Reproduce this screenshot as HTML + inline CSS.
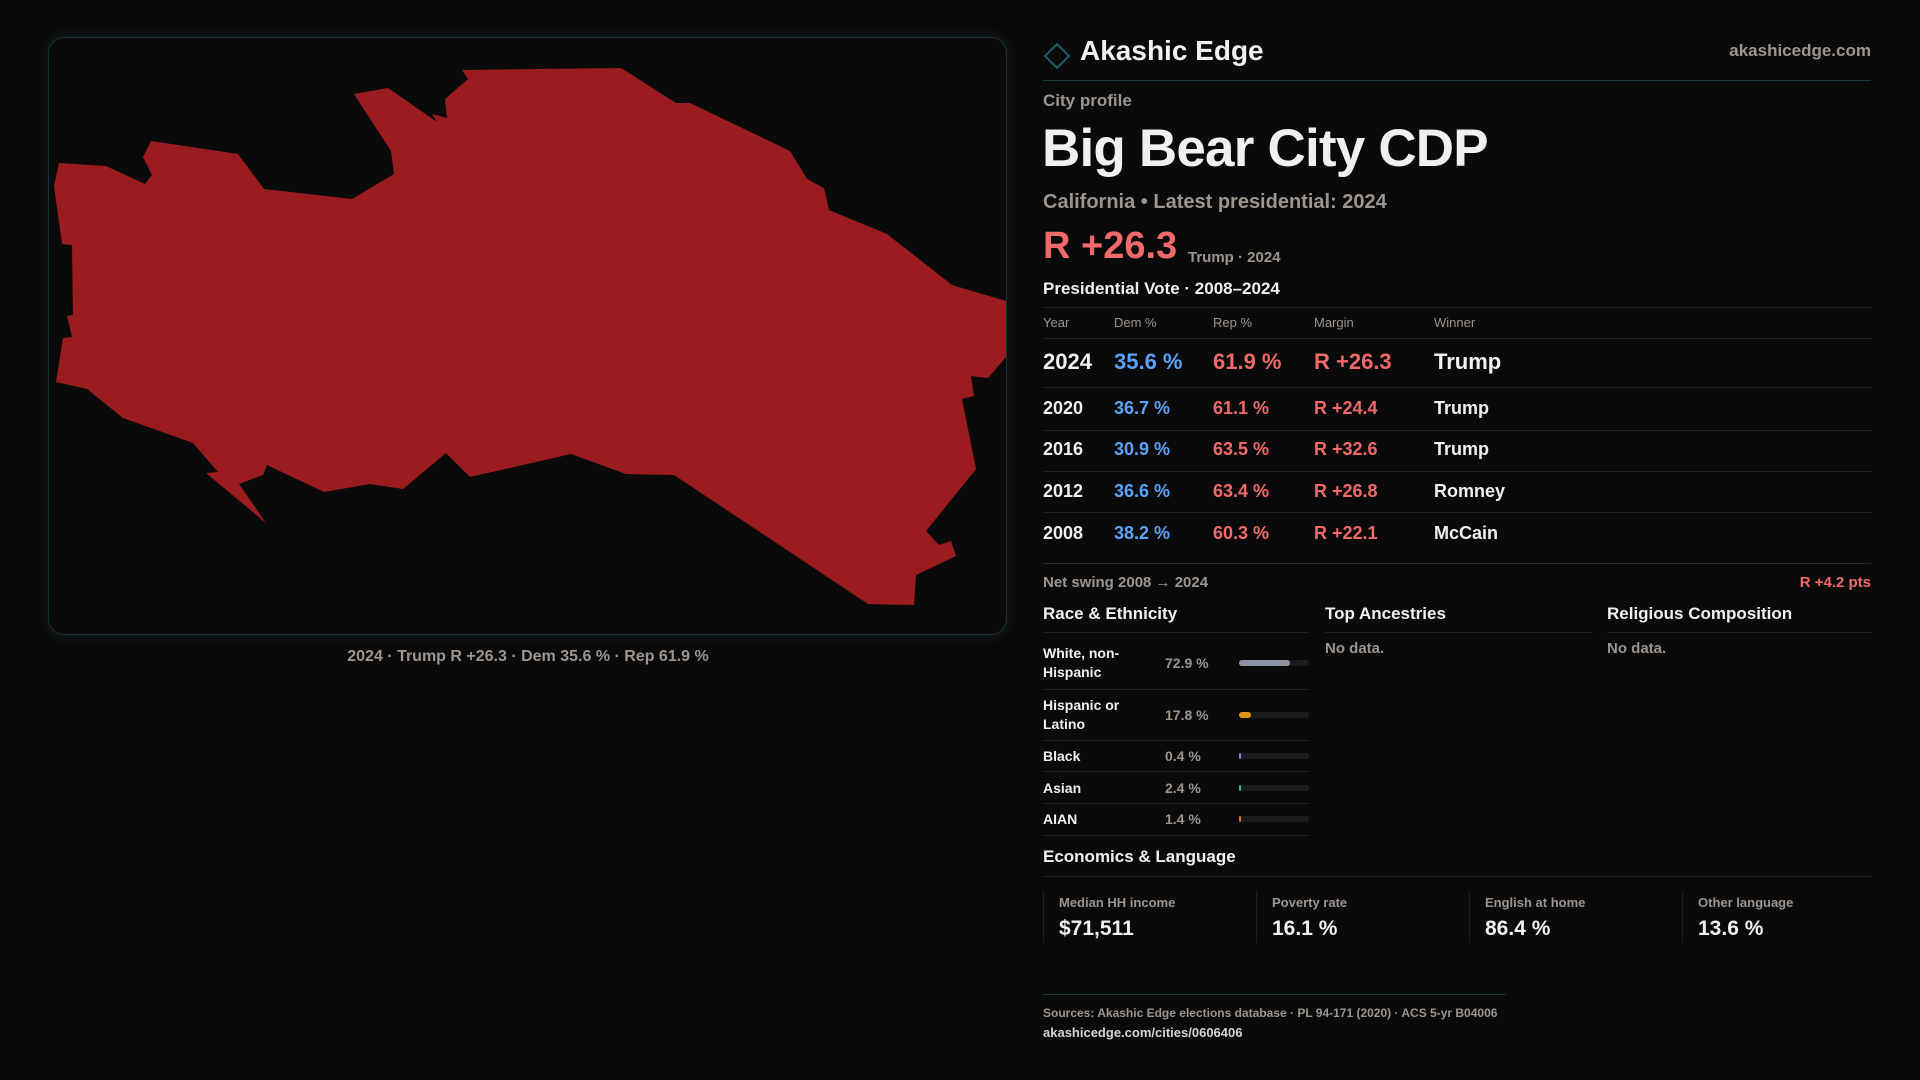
<!DOCTYPE html>
<html><head><meta charset="utf-8">
<style>
*{margin:0;padding:0;box-sizing:border-box}
body{width:1920px;height:1080px;background:#0b0a0b;font-family:"Liberation Sans",sans-serif;color:#f2f0ee;position:relative;overflow:hidden}
.a{position:absolute;white-space:nowrap}
.m{color:#9d958e}
.r{color:#f06a6a}
.b{color:#5ba3f7}
.ln{position:absolute;height:1px;background:#232325}
</style></head><body>
<div class="a" style="left:48px;top:37px;width:959px;height:598px;border:1px solid #15363c;border-radius:16px;box-shadow:0 0 14px rgba(30,90,100,0.25)"></div>
<svg class="a" style="left:0;top:0" width="1040" height="700">
<polygon fill="#9a1c1f" points="462,70 621,68 676,103 690,103 790,151 807,179 824,188 829,210 887,234 952,285 1006,301 1006,357 988,378 971,376 974,396 962,399 976,469 926,531 939,545 951,541 956,556 916,575 914,605 868,604 674,475 626,474 571,454 470,477 446,453 403,489 370,484 324,492 267,465 263,475 239,484 266,523 206,473 218,472 193,443 123,418 87,389 56,382 63,338 72,337 67,316 73,315 72,245 62,244 54,186 59,163 106,166 145,184 152,175 143,157 151,141 238,154 264,189 352,199 394,174 391,151 354,94 388,88 437,122 432,114 447,118 445,99 468,79"/>
</svg>
<div class="a m" style="left:0;width:1056px;text-align:center;top:646px;font-size:16px;font-weight:bold;line-height:22px">2024 · Trump R +26.3 · Dem 35.6 % · Rep 61.9 %</div>

<svg class="a" style="left:1043px;top:42px" width="28" height="28"><polygon points="14,2 26,14 14,26 2,14" fill="none" stroke="#1d5a66" stroke-width="2"/></svg>
<div class="a" style="left:1080px;top:34px;font-size:28px;font-weight:bold;line-height:34px">Akashic Edge</div>
<div class="a m" style="right:49px;top:41px;font-size:17px;font-weight:bold;line-height:20px">akashicedge.com</div>
<div class="ln" style="left:1043px;width:828px;top:80px;background:#173a40"></div>
<div class="a m" style="left:1043px;top:91px;font-size:17px;font-weight:bold;line-height:20px">City profile</div>
<div class="a" style="left:1042px;top:116px;font-size:53px;font-weight:bold;line-height:66px;letter-spacing:-0.8px">Big Bear City CDP</div>
<div class="a m" style="left:1043px;top:190px;font-size:20px;font-weight:bold;line-height:24px">California • Latest presidential: 2024</div>
<div class="a r" style="left:1043px;top:224px;font-size:38px;font-weight:bold;line-height:44px">R +26.3</div>
<div class="a m" style="left:1188px;top:249px;font-size:15px;font-weight:bold;line-height:18px">Trump · 2024</div>
<div class="a" style="left:1043px;top:278px;font-size:17px;font-weight:bold;line-height:22px">Presidential Vote · 2008–2024</div>
<div class="ln" style="left:1043px;width:828px;top:307px"></div>
<div class="a m" style="left:1043px;top:315px;font-size:13px;line-height:16px">Year</div>
<div class="a m" style="left:1114px;top:315px;font-size:13px;line-height:16px">Dem %</div>
<div class="a m" style="left:1213px;top:315px;font-size:13px;line-height:16px">Rep %</div>
<div class="a m" style="left:1314px;top:315px;font-size:13px;line-height:16px">Margin</div>
<div class="a m" style="left:1434px;top:315px;font-size:13px;line-height:16px">Winner</div>
<div class="ln" style="left:1043px;width:828px;top:338px"></div>
<div id="vote-rows"></div>
<div class="ln" style="left:1043px;width:828px;top:563px;background:#2a2a2c"></div>
<div class="a m" style="left:1043px;top:574px;font-size:15px;font-weight:bold;line-height:18px">Net swing 2008 → 2024</div>
<div class="a r" style="right:49px;top:574px;font-size:15px;font-weight:bold;line-height:18px">R +4.2 pts</div>

<div class="a" style="left:1043px;top:603px;font-size:17px;font-weight:bold;line-height:22px">Race &amp; Ethnicity</div>
<div class="ln" style="left:1043px;width:266px;top:632px"></div>
<div class="a" style="left:1325px;top:603px;font-size:17px;font-weight:bold;line-height:22px">Top Ancestries</div>
<div class="ln" style="left:1325px;width:266px;top:632px"></div>
<div class="a m" style="left:1325px;top:640px;font-size:15px;font-weight:bold;line-height:18px">No data.</div>
<div class="a" style="left:1607px;top:603px;font-size:17px;font-weight:bold;line-height:22px">Religious Composition</div>
<div class="ln" style="left:1607px;width:264px;top:632px"></div>
<div class="a m" style="left:1607px;top:640px;font-size:15px;font-weight:bold;line-height:18px">No data.</div>
<div id="race-rows"></div>

<div class="a" style="left:1043px;top:846px;font-size:17px;font-weight:bold;line-height:22px">Economics &amp; Language</div>
<div class="ln" style="left:1043px;width:828px;top:876px"></div>
<div id="econ"></div>

<div class="ln" style="left:1043px;width:463px;top:994px;background:#173a40"></div>
<div class="a m" style="left:1043px;top:1005px;font-size:12px;font-weight:bold;line-height:16px">Sources: Akashic Edge elections database · PL 94-171 (2020) · ACS 5-yr B04006</div>
<div class="a" style="left:1043px;top:1025px;font-size:13px;font-weight:bold;line-height:16px;color:#d8d4d0">akashicedge.com/cities/0606406</div>

<script>
const years=["2024","2020","2016","2012","2008"];
const demPct=[35.6,36.7,30.9,36.6,38.2];
const repPct=[61.9,61.1,63.5,63.4,60.3];
const winners=["Trump","Trump","Trump","Romney","McCain"];
const raceLabels=["White, non-Hispanic","Hispanic or Latino","Black","Asian","AIAN"];
const raceValues=[72.9,17.8,0.4,2.4,1.4];
const raceColors=["#8a94a6","#d99516","#8b7fd6","#2bbf90","#d9772a"];
const econLabels=["Median HH income","Poverty rate","English at home","Other language"];
const econValues=["$71,511","16.1 %","86.4 %","13.6 %"];

function mk(parent,cls,style,text){const d=document.createElement('div');d.className=cls;d.style.cssText=style;if(text!==undefined)d.textContent=text;parent.appendChild(d);return d;}

const vr=document.getElementById('vote-rows');
const rowCenters=[362,409,450,492,534];
const lineYs=[387,430,471,512,555];
years.forEach((y,i)=>{
  const fs=i===0?22:18, c=rowCenters[i], t=c-fs*0.6;
  const st=`top:${t}px;font-size:${fs}px;font-weight:bold;line-height:${fs*1.2}px;`;
  let e=mk(vr,'a','left:1043px;'+st,y);
  
  
  e=mk(vr,'a b','left:1114px;'+st,demPct[i].toFixed(1)+' %');
  
  
  e=mk(vr,'a r','left:1213px;'+st,repPct[i].toFixed(1)+' %');
  
  
  e=mk(vr,'a r','left:1314px;'+st,'R +'+(repPct[i]-demPct[i]).toFixed(1));
  
  
  e=mk(vr,'a','left:1434px;'+st,winners[i]);
  
  
  if(i<4){const l=mk(vr,'ln',`left:1043px;width:828px;top:${lineYs[i]}px`);
  }
});

const rr=document.getElementById('race-rows');
const raceCenters=[663,715,756,788,819];
const raceLines=[689,740,771,803,835];
const barX=1239, barW=70;
function xScale(v){return v/100*barW;}
raceLabels.forEach((lab,i)=>{
  const c=raceCenters[i];
  const twoLine=lab.length>12;
  let e=mk(rr,'a',`left:1043px;top:${twoLine?c-19:c-9}px;width:110px;white-space:normal;font-size:14px;font-weight:bold;line-height:19px`,lab);
  
  
  e=mk(rr,'a m',`left:1165px;top:${c-9}px;font-size:14px;font-weight:bold;line-height:18px`,raceValues[i].toFixed(1)+' %');
  
  
  e=mk(rr,'a',`left:${barX}px;top:${c-3}px;width:${barW}px;height:6px;border-radius:3px;background:#1c1c1f`);
  
  
  e=mk(rr,'a',`left:${barX}px;top:${c-3}px;width:${Math.max(1.5,xScale(raceValues[i]))}px;height:6px;border-radius:3px;background:${raceColors[i]}`);
  
  
  e=mk(rr,'ln',`left:1043px;width:266px;top:${raceLines[i]}px`);
  
  
});

const ec=document.getElementById('econ');
econLabels.forEach((lab,i)=>{
  const x=1043+i*213;
  let e=mk(ec,'a',`left:${x}px;top:891px;width:1px;height:52px;background:#1f1f22`);
  
  
  e=mk(ec,'a m',`left:${x+16}px;top:895px;font-size:13px;font-weight:bold;line-height:16px`,lab);
  
  
  e=mk(ec,'a',`left:${x+16}px;top:916px;font-size:21px;font-weight:bold;line-height:26px`,econValues[i]);
  
  
});
</script>
</body></html>
